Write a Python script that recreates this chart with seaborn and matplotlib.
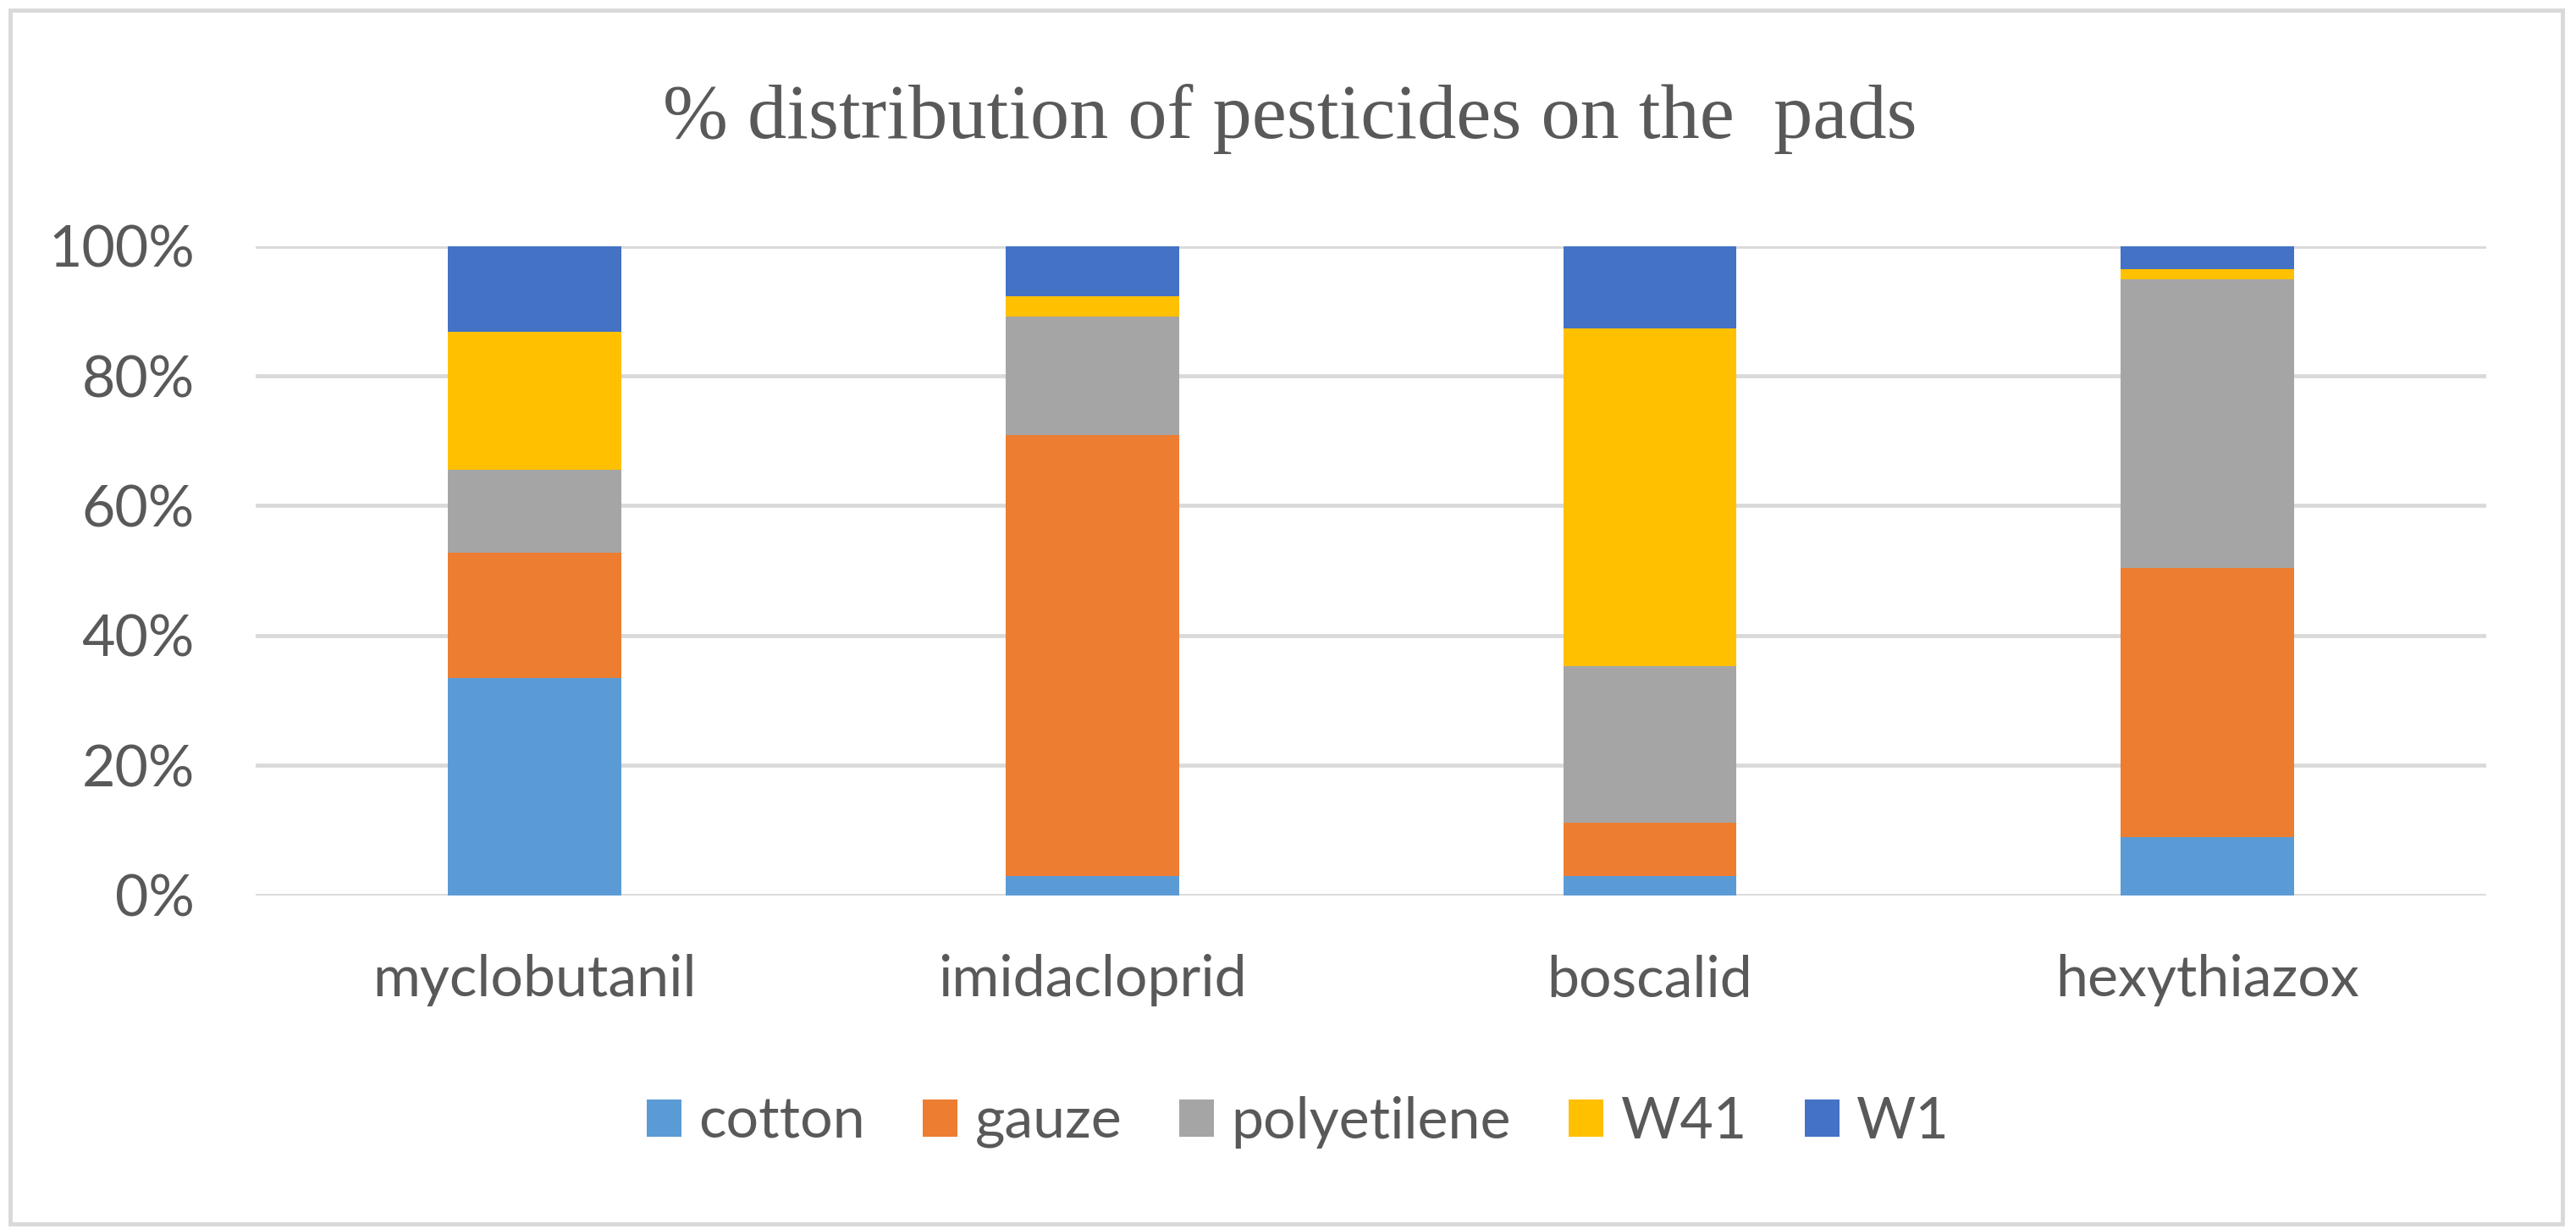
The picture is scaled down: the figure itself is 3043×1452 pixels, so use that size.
import numpy as np
import pandas as pd
import seaborn as sns
import matplotlib.pyplot as plt
from matplotlib.patches import Rectangle
from matplotlib.ticker import PercentFormatter

# data (percent of each pesticide found on each pad)
pesticides = ['myclobutanil', 'imidacloprid', 'boscalid', 'hexythiazox']
pads = ['cotton', 'gauze', 'polyetilene', 'W41', 'W1']
cotton = [33.4, 2.9, 2.9, 8.9]
gauze = [19.3, 68.0, 8.3, 41.5]
polyetilene = [12.8, 18.2, 24.1, 44.5]
w41 = [21.3, 3.2, 52.0, 1.6]
w1 = [13.2, 7.7, 12.7, 3.5]
pad_colors = ['#5B9BD5', '#ED7D31', '#A5A5A5', '#FFC000', '#4472C4']

title = '% distribution of pesticides on the  pads'
text_color = '#595959'
grid_color = '#D9D9D9'

# long table, shares as fractions of each column total (100% stacked)
values = np.array([cotton, gauze, polyetilene, w41, w1], dtype=float)
values = values / values.sum(axis=0)
rows = []
for p, vals in zip(pads, values):
    for pest, v in zip(pesticides, vals):
        rows.append({'pesticide': pest, 'pad': p, 'share': v})
df = pd.DataFrame(rows)

sns.set_style('white')
plt.rcParams['font.family'] = ['Lato', 'DejaVu Sans']

fig = plt.figure(figsize=(30.43, 14.52), dpi=100)
ax = fig.add_axes([0.0993, 0.2716, 0.8659, 0.5282])

# stack the bars one pad at a time
bottom = np.zeros(len(pesticides))
for p, c in zip(pads, pad_colors):
    sub = df[df['pad'] == p]
    sns.barplot(data=sub, x='pesticide', y='share', order=pesticides,
                bottom=bottom, color=c, saturation=1, width=0.311,
                errorbar=None, linewidth=0, label=p, ax=ax, zorder=3)
    bottom = bottom + sub.set_index('pesticide').loc[pesticides, 'share'].values

if ax.get_legend() is not None:
    ax.get_legend().remove()

ax.set_ylim(0, 1)
ax.set_xlim(-0.5, len(pesticides) - 0.5)
ax.yaxis.set_major_formatter(PercentFormatter(1.0, decimals=0))
ax.set_yticks(np.arange(0, 1.01, 0.2))
ax.set_xlabel('')
ax.set_ylabel('')
ax.grid(axis='y', color=grid_color, linewidth=3.4, zorder=0)
ax.set_axisbelow(True)
for s in ax.spines.values():
    s.set_visible(False)
ax.tick_params(axis='y', length=0, pad=52, labelsize=49, labelcolor=text_color)
ax.tick_params(axis='x', length=0, pad=50, labelsize=49, labelcolor=text_color)

fig.text(0.5008, 0.8877, title, ha='center', va='baseline', fontsize=66.5,
         family=['Liberation Serif', 'DejaVu Serif'], color=text_color)

handles, labels = ax.get_legend_handles_labels()
fig.legend(handles, labels, loc='center', bbox_to_anchor=(0.504, 0.0868),
           ncol=5, frameon=False, fontsize=49, labelcolor=text_color,
           handlelength=0.6, handleheight=0.62, handletextpad=0.3,
           columnspacing=1.0)

# light grey frame round the whole chart
fig.patches.append(Rectangle((0.004, 0.0041), 0.9907, 0.9876,
                             transform=fig.transFigure, fill=False,
                             edgecolor=grid_color, linewidth=3.5))

fig.savefig('out.png', dpi=100, facecolor='white')
